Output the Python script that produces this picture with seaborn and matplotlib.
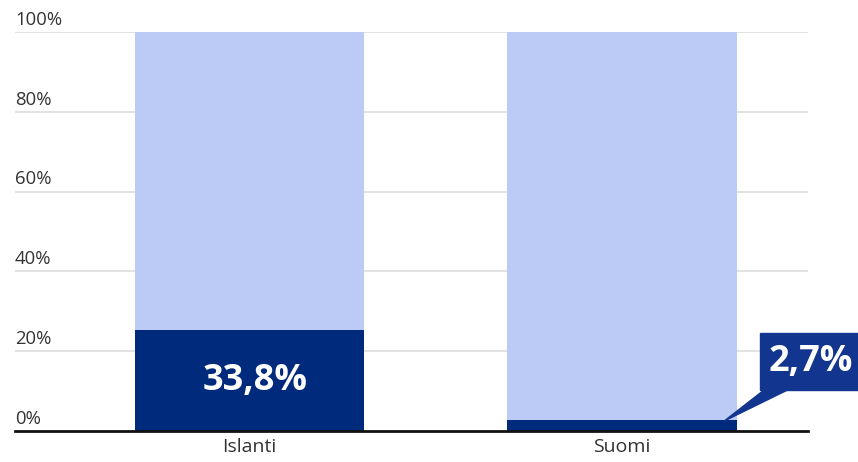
import matplotlib
matplotlib.use("Agg")
import matplotlib.pyplot as plt
import seaborn as sns
import pandas as pd
from matplotlib.patches import Polygon
from matplotlib.transforms import blended_transform_factory

categories = ["Islanti", "Suomi"]
dark_values = [25.2, 2.7]
total_values = [100, 100]
value_labels = ["33,8%", "2,7%"]
y_ticks = [0, 20, 40, 60, 80, 100]

sns.set_theme(style="white")
plt.rcParams['font.family'] = ['Open Sans', 'DejaVu Sans']

df = pd.DataFrame({"cat": categories, "dark": dark_values, "total": total_values})

fig = plt.figure(figsize=(8.58, 4.62), dpi=100)
ax = fig.add_axes([15/858, 1-431/462, (808-15)/858, (431-32)/462])

LIGHT = "#bccbf5"
DARK = "#002b7c"
CALLOUT = "#12358f"
W = 0.616

for t in y_ticks[1:]:
    ax.axhline(t, color="#dddddd", lw=1.2, zorder=0)

sns.barplot(data=df, x="cat", y="total", color=LIGHT, width=W, saturation=1,
            linewidth=0, ax=ax, zorder=2)
sns.barplot(data=df, x="cat", y="dark", color=DARK, width=W, saturation=1,
            linewidth=0, ax=ax, zorder=3)

ax.set_xlim(-0.63, 1.50)
ax.set_ylim(0, 100)
ax.set_xlabel("")
ax.set_ylabel("")
ax.set_yticks([])
for s in ["top", "right", "left"]:
    ax.spines[s].set_visible(False)
ax.spines["bottom"].set_color("#111111")
ax.spines["bottom"].set_linewidth(2)
ax.spines["bottom"].set_zorder(5)
ax.tick_params(axis="x", length=0, pad=5, labelsize=14, labelcolor="#333333")

trans = blended_transform_factory(ax.transAxes, ax.transData)
for t in y_ticks:
    ax.text(0, t + 0.8, f"{t}%", transform=trans, ha="left", va="bottom",
            fontsize=13.3, color="#333333")

# Label inside first bar
ax.text(0.015, 12.5, value_labels[0], ha="center", va="center", color="white",
        fontsize=26, fontweight="bold", zorder=6)

# Callout for second bar
v = dark_values[1]
tip = (1 + W/2 - 0.033, v - 0.2)
box = [(1.372, 10.3), (1.64, 10.3), (1.64, 24.6), (1.372, 24.6)]
ax.add_patch(Polygon(box, closed=True, color=CALLOUT, clip_on=False, zorder=6))
ax.add_patch(Polygon([(1.385, 10.5), (1.45, 10.5), tip], closed=True,
                     color=CALLOUT, clip_on=False, zorder=6))
ax.text(1.508, 17.4, value_labels[1], ha="center", va="center", color="white",
        fontsize=26, fontweight="bold", zorder=7, clip_on=False)

fig.savefig("out.png", dpi=100)
